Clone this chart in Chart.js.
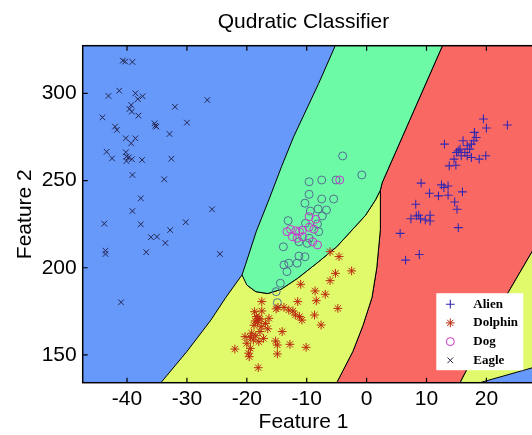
<!DOCTYPE html>
<html><head><meta charset="utf-8">
<script src="https://cdn.jsdelivr.net/npm/chart.js@4.4.1/dist/chart.umd.min.js"></script>
<style>html,body{margin:0;padding:0;overflow:hidden;background:#fff}</style>
</head><body>
<canvas id="c" width="607" height="435"></canvas>
<script>
const xTicks = [-40, -30, -20, -10, 0, 10, 20];
const yTicks = [150, 200, 250, 300];

const alien = [[19.5,285.3],[20.0,280.1],[23.5,281.8],[13.0,270.9],[18.0,277.6],[18.3,274.7],[17.9,272.8],[17.5,270.9],[16.1,272.8],[16.8,269.9],[15.6,268.0],[15.3,267.0],[15.0,266.1],[15.8,264.2],[16.8,264.2],[17.5,263.2],[18.8,262.3],[19.9,264.2],[13.8,258.4],[14.9,258.8],[14.6,262.3],[17.2,268.0],[16.4,266.1],[9.1,248.5],[12.5,247.5],[13.6,246.9],[12.9,246.0],[10.5,242.7],[12.0,241.2],[13.6,241.6],[16.0,243.5],[14.7,237.7],[15.1,233.5],[8.2,236.4],[7.4,228.1],[8.7,230.1],[9.0,228.1],[9.8,227.4],[10.6,226.8],[10.6,230.1],[8.3,229.7],[15.3,223.0],[5.6,219.7],[6.5,204.4],[8.8,207.6]];

const dolphin = [[-6.1,209.2],[-4.6,206.4],[-5.2,196.8],[-2.5,198.2],[-6.1,192.6],[-11.0,190.5],[-8.6,186.7],[-6.9,184.8],[-8.4,181.1],[-11.5,180.6],[-4.8,176.7],[-17.5,180.6],[-14.8,177.3],[-13.8,177.3],[-13.0,175.8],[-12.3,175.2],[-11.9,172.9],[-11.2,172.0],[-10.8,170.0],[-15.1,176.4],[-8.7,172.9],[-7.6,167.2],[-18.7,174.8],[-17.5,175.2],[-18.4,172.0],[-18.0,171.0],[-18.6,169.5],[-18.2,168.5],[-18.8,167.0],[-17.8,170.5],[-16.3,171.0],[-16.9,168.1],[-17.6,166.2],[-14.1,163.4],[-17.8,163.4],[-20.3,160.5],[-19.4,160.1],[-18.9,158.6],[-20.0,156.7],[-18.0,157.6],[-19.2,162.5],[-18.5,161.0],[-15.2,158.0],[-14.9,155.7],[-12.8,156.1],[-10.1,154.4],[-22.0,153.4],[-19.4,153.8],[-19.7,151.0],[-19.6,149.0],[-14.9,150.6],[-18.1,142.7],[-17.2,159.5],[-16.5,165.0]];

const dogMagenta = [[-4.5,250.3],[-9.6,229.3],[-8.5,227.8],[-12.7,222.0],[-13.3,220.7],[-11.8,221.2],[-11.2,220.7],[-10.7,221.6],[-9.6,223.2],[-8.8,222.1],[-12.4,217.8],[-11.6,216.9],[-10.7,217.8],[-9.0,214.9],[-8.2,213.1]];

const dogGray = [[-4.0,264.1],[-0.8,253.2],[-5.1,250.3],[-9.6,249.3],[-7.5,250.3],[-9.6,242.1],[-7.5,239.4],[-5.5,239.4],[-10.3,237.0],[-8.1,233.7],[-6.7,233.1],[-9.4,232.5],[-7.4,229.7],[-10.2,225.5],[-8.2,225.1],[-13.1,227.0],[-8.0,220.7],[-9.6,216.9],[-9.9,214.0],[-11.3,214.9],[-13.9,212.0],[-11.3,206.7],[-10.3,206.3],[-13.8,201.6],[-13.0,202.6],[-11.6,202.6],[-13.3,197.8],[-14.4,191.1],[-15.1,186.3],[-14.9,180.0]];

const eagle = [[-40.7,318.7],[-40.3,318.2],[-39.1,318.0],[-41.3,301.5],[-43.1,298.5],[-38.6,300.0],[-38.2,296.7],[-37.4,298.3],[-39.3,293.3],[-39.6,291.0],[-39.2,289.5],[-38.1,287.2],[-44.1,286.2],[-42.0,280.9],[-41.7,279.0],[-35.4,282.8],[-35.1,280.9],[-35.3,281.4],[-40.2,274.2],[-38.6,274.2],[-39.3,271.3],[-43.4,266.5],[-42.5,262.7],[-40.2,266.2],[-40.1,263.7],[-40.1,261.2],[-39.2,262.2],[-39.7,263.3],[-37.5,261.8],[-39.1,253.2],[-33.8,250.7],[-32.6,262.5],[-32.9,276.7],[-32.0,292.3],[-30.0,283.2],[-26.6,296.2],[-37.7,239.8],[-39.1,232.5],[-43.8,225.3],[-37.7,224.9],[-30.2,226.1],[-25.8,233.5],[-36.0,217.5],[-35.0,217.8],[-32.8,221.6],[-33.6,214.2],[-43.6,209.8],[-43.6,207.9],[-36.8,208.9],[-24.5,207.9],[-41.0,180.2]];

// decision regions (boundary vertices)
const dogRegion = [[-4.2,335],[-5.3,326.8],[-8.0,305.7],[-12.2,275],[-14.2,258],[-16.2,240],[-18.4,221],[-20.2,202],[-20.8,195.9],[-20.0,190.1],[-18.5,186.3],[-16.5,185.2],[-14.3,187.6],[-11.5,194.0],[-8.0,203.5],[-5.0,212.0],[-3.0,219.5],[-0.2,230.0],[1.5,239.0],[2.3,244.5],[2.6,248.8],[12.6,326.8],[13.65,335]];
const dolphinRegion = [[-20.8,195.9],[-23.5,183],[-26.0,170],[-30.0,152],[-34.2,134.7],[-35.8,128],[-5.4,128],[-4.9,134.7],[-2.3,152],[-0.6,167],[0.9,183],[1.7,200],[2.3,222],[2.3,244.5],[1.5,239.0],[-0.2,230.0],[-3.0,219.5],[-5.0,212.0],[-8.0,203.5],[-11.5,194.0],[-14.3,187.6],[-16.5,185.2],[-18.5,186.3],[-20.0,190.1]];
const alienRegion = [[13.65,335],[12.6,326.8],[2.6,248.8],[2.3,244.5],[2.3,222],[1.7,200],[0.9,183],[-0.6,167],[-2.3,152],[-4.9,134.7],[-5.4,128],[15.1,128],[15.7,134.7],[19.5,160],[23.6,185.6],[27.5,208.5],[32,234],[32,335]];
const dolphinRegion2 = [[15.1,128],[15.7,134.7],[19.5,160],[23.6,185.6],[27.5,208.5],[32,234],[32,128]];
const eagleRegion2 = [[12.6,128],[19.0,134.2],[26.5,141.5],[32,147],[32,128]];

const BLUE = '#6699fa', GREEN = '#6cfaa6', YELLOW = '#e0fa6c', RED = '#fa6864';
const FONT = '"Liberation Sans", Arial, sans-serif';
Chart.defaults.font.family = FONT;
Chart.defaults.color = '#000';

const P = a => a.map(([x, y]) => ({x, y}));
function region(label, pts, color, order) {
  return {type: 'line', label, data: P(pts), showLine: true, fill: 'shape', backgroundColor: color,
    borderColor: '#000', borderWidth: 1, pointRadius: 0, tension: 0, order};
}

function drawSymbol(ctx, style, r, x, y) {
  ctx.beginPath();
  if (style === 'cross' || style === 'star') {
    ctx.moveTo(x - r, y); ctx.lineTo(x + r, y); ctx.moveTo(x, y - r); ctx.lineTo(x, y + r);
  }
  if (style === 'crossRot' || style === 'star') {
    const d = r * Math.SQRT1_2;
    ctx.moveTo(x - d, y - d); ctx.lineTo(x + d, y + d); ctx.moveTo(x - d, y + d); ctx.lineTo(x + d, y - d);
  }
  if (style === 'circle') ctx.arc(x, y, r, 0, Math.PI * 2);
  ctx.stroke();
}

const framePlugin = {
  id: 'frame',
  beforeDraw(chart) {
    const {ctx, chartArea: a} = chart;
    ctx.save(); ctx.fillStyle = BLUE; ctx.fillRect(a.left, a.top, a.right - a.left, a.bottom - a.top); ctx.restore();
  },
  afterDatasetsDraw(chart) {
    const {ctx, chartArea: a, scales} = chart;
    ctx.save();
    ctx.strokeStyle = '#000'; ctx.lineWidth = 1.5;
    ctx.strokeRect(a.left, a.top, a.right - a.left, a.bottom - a.top);
    ctx.lineWidth = 1.2;
    ctx.beginPath();
    scales.x.ticks.forEach(t => { const px = scales.x.getPixelForValue(t.value);
      ctx.moveTo(px, a.bottom); ctx.lineTo(px, a.bottom - 5); ctx.moveTo(px, a.top); ctx.lineTo(px, a.top + 5); });
    scales.y.ticks.forEach(t => { const py = scales.y.getPixelForValue(t.value);
      ctx.moveTo(a.left, py); ctx.lineTo(a.left + 5, py); ctx.moveTo(a.right, py); ctx.lineTo(a.right - 5, py); });
    ctx.stroke();
    // legend
    const items = chart.data.datasets.filter(d => d.inLegend);
    const L = a.right - 110, T = a.bottom - 89.5, W = 87, H = 77;
    ctx.fillStyle = '#fff'; ctx.fillRect(L, T, W, H);
    items.forEach((d, i) => {
      const cy = T + 11 + i * 18.7;
      ctx.strokeStyle = d.borderColor; ctx.lineWidth = d.borderWidth;
      drawSymbol(ctx, d.pointStyle, d.pointRadius, L + 14, cy);
      ctx.fillStyle = '#000'; ctx.font = 'bold 13px "Liberation Serif", "Times New Roman", serif';
      ctx.textBaseline = 'middle'; ctx.textAlign = 'left';
      ctx.fillText(d.label, L + 37, cy);
    });
    ctx.restore();
  }
};

new Chart(document.getElementById('c'), {
  type: 'scatter',
  data: {
    datasets: [
      region('AlienRegion', alienRegion, RED, 50),
      region('DolphinRegion', dolphinRegion, YELLOW, 45),
      region('DolphinRegion2', dolphinRegion2, YELLOW, 44),
      region('DogRegion', dogRegion, GREEN, 40),
      region('EagleRegion2', eagleRegion2, BLUE, 39),
      {label: 'Dog2', data: P(dogGray), pointStyle: 'circle', pointRadius: 4, borderWidth: 1, borderColor: '#52708f', backgroundColor: 'rgba(0,0,0,0)', order: 8},
      {label: 'Alien', data: P(alien), pointStyle: 'cross', pointRadius: 4.4, borderWidth: 1.1, borderColor: '#3228b0', backgroundColor: 'rgba(0,0,0,0)', order: 4, inLegend: true},
      {label: 'Dolphin', data: P(dolphin), pointStyle: 'star', pointRadius: 4.4, borderWidth: 1, borderColor: '#bb2a10', backgroundColor: 'rgba(0,0,0,0)', order: 5, inLegend: true},
      {label: 'Dog', data: P(dogMagenta), pointStyle: 'circle', pointRadius: 4, borderWidth: 1, borderColor: '#cc33cc', backgroundColor: 'rgba(0,0,0,0)', order: 6, inLegend: true},
      {label: 'Eagle', data: P(eagle), pointStyle: 'crossRot', pointRadius: 4, borderWidth: 1, borderColor: '#252550', backgroundColor: 'rgba(0,0,0,0)', order: 7, inLegend: true}
    ]
  },
  options: {
    responsive: false, animation: false, events: [], devicePixelRatio: 1,
    plugins: {
      legend: {display: false}, tooltip: {enabled: false},
      title: {display: true, text: 'Qudratic Classifier', font: {family: FONT, size: 21, weight: 'normal'}, color: '#000', padding: {top: 10, bottom: 10.5}},
      subtitle: {display: true, position: 'bottom', text: 'Feature 1', font: {family: FONT, size: 21, weight: 'normal'}, color: '#000', padding: {top: 0, bottom: 0}}
    },
    scales: {
      x: {type: 'linear', min: -47.4, max: 30, grid: {display: false, drawTicks: false}, border: {display: false},
        ticks: {font: {size: 21}, color: '#000', padding: 4, autoSkip: false, maxRotation: 0},
        afterBuildTicks: s => { s.ticks = xTicks.map(v => ({value: v})); },
        afterFit: s => { s.height = 27.1; }},
      y: {type: 'linear', min: 134.1, max: 327.3, grid: {display: false, drawTicks: false}, border: {display: false},
        ticks: {font: {size: 21}, color: '#000', padding: 6, autoSkip: false},
        title: {display: true, text: 'Feature 2', font: {size: 21}, color: '#000', padding: {top: 12.5, bottom: 0}},
        afterBuildTicks: s => { s.ticks = yTicks.map(v => ({value: v})); },
        afterFit: s => { s.width = 82.7; }},
      yR: {type: 'linear', position: 'right', display: true, grid: {display: false, drawTicks: false}, border: {display: false},
        ticks: {display: false}, afterFit: s => { s.width = 60.7; }}
    }
  },
  plugins: [framePlugin]
});
</script>
</body></html>
